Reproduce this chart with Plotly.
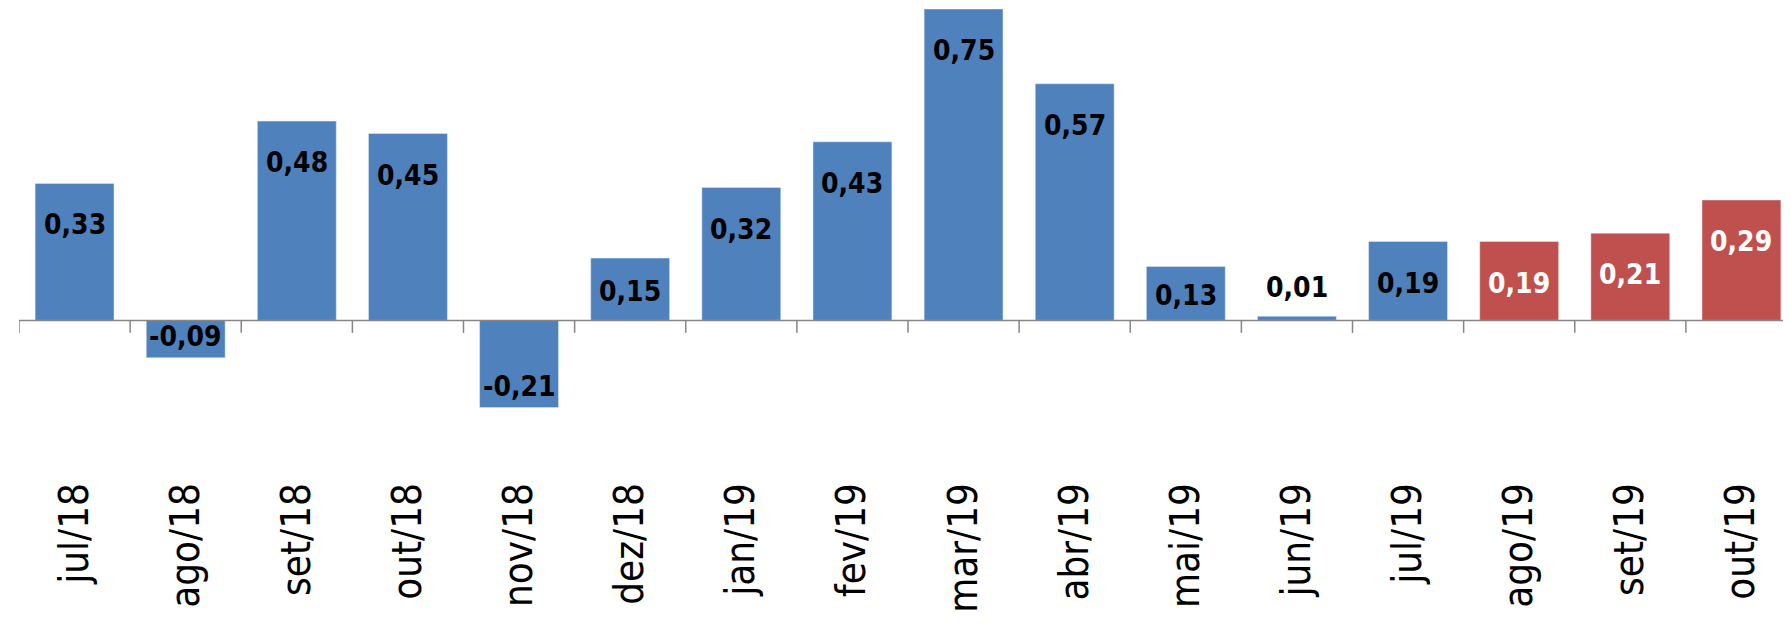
import plotly.graph_objects as go

cats = ["jul/18","ago/18","set/18","out/18","nov/18","dez/18","jan/19","fev/19","mar/19","abr/19","mai/19","jun/19","jul/19","ago/19","set/19","out/19"]
vals = [0.33,-0.09,0.48,0.45,-0.21,0.15,0.32,0.43,0.75,0.57,0.13,0.01,0.19,0.19,0.21,0.29]
labels = ["0,33","-0,09","0,48","0,45","-0,21","0,15","0,32","0,43","0,75","0,57","0,13","0,01","0,19","0,19","0,21","0,29"]
n_blue = 13

colors = ["#4F81BD"]*n_blue + ["#C0504D"]*(len(vals)-n_blue)
tcolors = ["black"]*n_blue + ["white"]*(len(vals)-n_blue)
FONT = "DejaVu Sans Condensed, Liberation Sans Narrow, Liberation Sans"

fig = go.Figure(go.Bar(x=list(range(len(cats))), y=vals, marker_color=colors, width=0.71))

ann = []
for i, (v, t) in enumerate(zip(vals, labels)):
    if v < 0:
        y = v + 0.05
    elif v < 0.05:
        y = v + 0.07
    else:
        y = max(v - 0.1, v / 2 - 0.005)
    ann.append(dict(x=i, y=y, xref="x", yref="y", text=f"<b>{t}</b>", showarrow=False,
                    font=dict(family=FONT, size=28, color=tcolors[i] if v >= 0.05 or v < 0 else "black")))

shapes = [dict(type="line", xref="x", yref="y", x0=-0.5, x1=len(cats)-0.5, y0=0, y1=0,
               line=dict(color="#868686", width=1.5))]
for i in range(len(cats)+1):
    shapes.append(dict(type="line", xref="x", yref="y", x0=i-0.5, x1=i-0.5, y0=0, y1=-0.03,
                       line=dict(color="#868686", width=1.5)))

fig.update_layout(
    width=1791, height=643, margin=dict(l=11, r=2, t=1, b=177),
    plot_bgcolor="white", paper_bgcolor="white", showlegend=False, shapes=shapes, annotations=ann,
    xaxis=dict(tickmode="array", tickvals=list(range(len(cats))), ticktext=cats, tickangle=-90,
               range=[-0.5, len(cats)-0.5], showgrid=False, zeroline=False, showline=False,
               tickfont=dict(family=FONT, size=40, color="black")),
    yaxis=dict(range=[-0.37, 0.75], visible=False),
)
fig.write_html("out.html")
